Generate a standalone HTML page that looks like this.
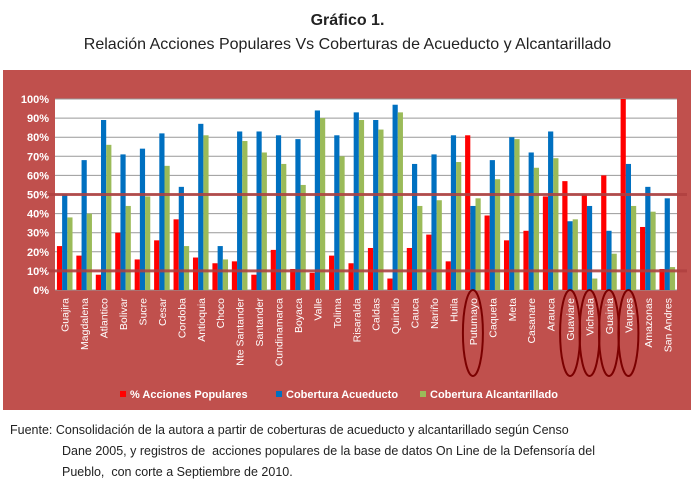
<!DOCTYPE html>
<html><head><meta charset="utf-8">
<style>
body{margin:0;width:695px;height:496px;background:#fff;font-family:"Liberation Sans",sans-serif;overflow:hidden;position:relative}
.t{position:absolute;left:0;width:695px;text-align:center;color:#222}
.foot{position:absolute;left:10px;top:420px;font-size:12.5px;color:#222;line-height:21px;width:680px}
</style></head><body>
<div class="t" style="top:12px;font-size:16px;font-weight:bold">Gráfico 1.</div>
<div class="t" style="top:36px;font-size:16px">Relación Acciones Populares Vs Coberturas de Acueducto y Alcantarillado</div>
<svg id="c" width="695" height="496" style="position:absolute;left:0;top:0"></svg>
<div class="foot">Fuente: Consolidación de la autora a partir de coberturas de acueducto y alcantarillado según Censo<br><span style="padding-left:52px">Dane 2005, y registros de &nbsp;acciones populares de la base de datos On Line de la Defensoría del</span><br><span style="padding-left:52px">Pueblo, &nbsp;con corte a Septiembre de 2010.</span></div>
<script>
const categories=["Guajira","Magdalena","Atlantico","Bolivar","Sucre","Cesar","Cordoba","Antioquia","Choco","Nte Santander","Santander","Cundinamarca","Boyaca","Valle","Tolima","Risaralda","Caldas","Quindio","Cauca","Nariño","Huila","Putumayo","Caqueta","Meta","Casanare","Arauca","Guaviare","Vichada","Guainia","Vaupes","Amazonas","San Andres"];
const acciones=[23,18,8,30,16,26,37,17,14,15,8,21,11,9,18,14,22,6,22,29,15,81,39,26,31,49,57,50,60,100,33,11];
const acueducto=[50,68,89,71,74,82,54,87,23,83,83,81,79,94,81,93,89,97,66,71,81,44,68,80,72,83,36,44,31,66,54,48];
const alcantarillado=[38,40,76,44,49,65,23,81,16,78,72,66,55,90,70,89,84,93,44,47,67,48,58,79,64,69,37,6,19,44,41,12];
const yTicks=[0,10,20,30,40,50,60,70,80,90,100];
const circled=["Putumayo","Guaviare","Vichada","Guainia","Vaupes"];
const refLines=[10,50];
const svg=document.getElementById('c');const NS="http://www.w3.org/2000/svg";
function mk(t,a,p){const e=document.createElementNS(NS,t);for(const k in a)e.setAttribute(k,a[k]);(p||svg).appendChild(e);return e;}
const X0=55,X1=677,Y0=290,Y1=99;
const y=v=>Y0-(v/100)*(Y0-Y1);
const gw=(X1-X0)/categories.length;
const x=i=>X0+i*gw;
let e=mk('rect',{x:3,y:70,width:688,height:340,fill:'#c0504d'});


e=mk('rect',{x:X0,y:Y1,width:X1-X0,height:Y0-Y1,fill:'#fff'});


yTicks.forEach(v=>{
 let l=mk('line',{x1:X0,x2:X1,y1:y(v),y2:y(v),stroke:'#999','stroke-width':1});
 
 
 let t=mk('text',{x:X0-6,y:y(v)+4,'text-anchor':'end','font-size':11,'font-weight':'bold',fill:'#fff'});
 t.textContent=v+'%';
 
 
});
const series=[[acciones,'#ff0000'],[acueducto,'#0070c0'],[alcantarillado,'#9bbb59']];
const bw=5.2;
categories.forEach((c,i)=>{
 series.forEach((s,k)=>{
  const v=s[0][i];
  let r=mk('rect',{x:x(i)+gw/2-1.5*bw+k*bw,y:y(v),width:bw,height:Y0-y(v),fill:s[1]});
  
  
 });
 const cx=x(i)+gw/2+4;
 let t=mk('text',{x:cx,y:298,'text-anchor':'end','font-size':10.5,fill:'#fff',transform:`rotate(-90 ${cx} 298)`});
 t.textContent=c;
 
 
 if(circled.includes(c)){
  let el=mk('ellipse',{cx:x(i)+gw/2,cy:333,rx:10,ry:43,fill:'none',stroke:'#7b0000','stroke-width':2});
  
  
 }
});
refLines.forEach(v=>{
 let l=mk('line',{x1:X0-8,x2:X1+10,y1:y(v),y2:y(v),stroke:'#b04040','stroke-width':3,opacity:0.85});
 
 
});
const leg=[['% Acciones Populares','#ff0000',120],['Cobertura Acueducto','#0070c0',276],['Cobertura Alcantarillado','#9bbb59',420]];
leg.forEach(L=>{
 let r=mk('rect',{x:L[2],y:391,width:6,height:6,fill:L[1]});
 
 
 let t=mk('text',{x:L[2]+10,y:398,'font-size':11,'font-weight':'bold',fill:'#fff'});
 t.textContent=L[0];
 
 
});
</script>
</body></html>
